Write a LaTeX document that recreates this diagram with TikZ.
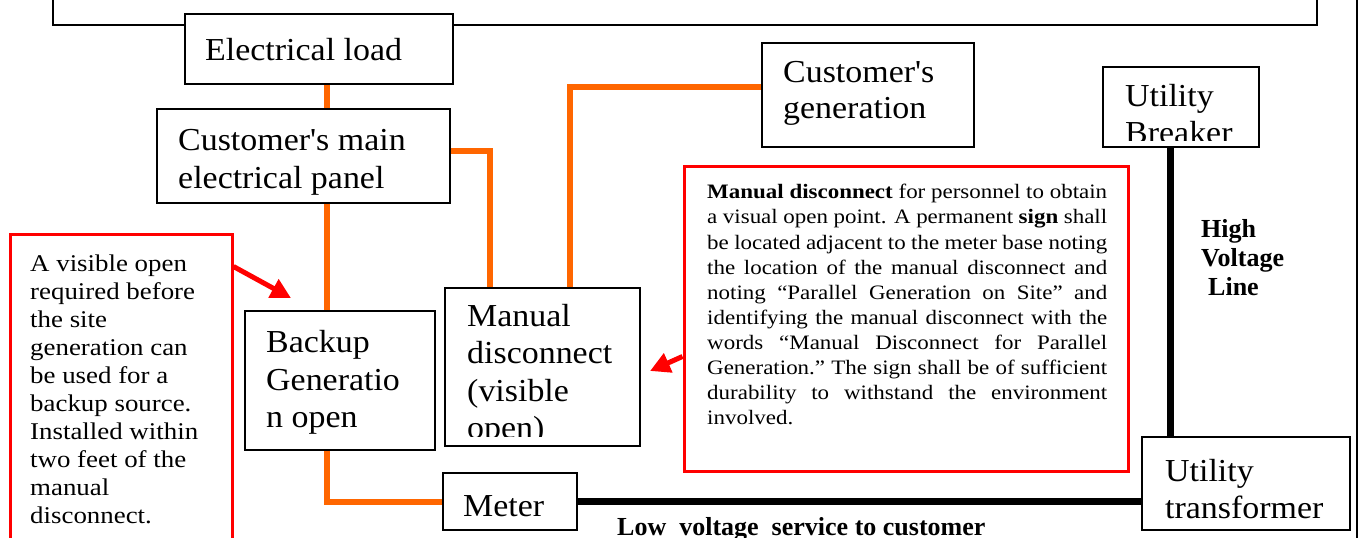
\documentclass[tikz,border=0pt]{standalone}
\usepackage{fontspec}
\setmainfont{Liberation Serif}
\newfontfamily\boxfont[FakeStretch=1.06]{Liberation Serif}
\newfontfamily\notefont[FakeStretch=1.12]{Liberation Serif}
\definecolor{wireorange}{RGB}{255,102,0}
\definecolor{notered}{RGB}{255,0,0}
\usepackage{tikz}
\usetikzlibrary{arrows.meta,calc}

\begin{document}
\begin{tikzpicture}[x=1pt, y=-1pt,
    block/.style={draw, line width=1.5pt, fill=white, inner sep=0pt},
    redbox/.style={draw=notered, line width=3pt, fill=white, inner sep=0pt},
    lbl/.style={anchor=base west, inner sep=0pt, font=\boxfont\fontsize{32}{38}\selectfont},
    signtxt/.style={anchor=base west, inner sep=0pt, font=\notefont\fontsize{20.5}{25}\selectfont},
    sidetxt/.style={anchor=base west, inner sep=0pt, font=\notefont\fontsize{24}{28}\selectfont},
    boldtxt/.style={anchor=base west, inner sep=0pt, font=\bfseries\fontsize{26}{29}\selectfont},
    wire/.style={draw=wireorange, line width=6pt},
    service/.style={draw=black, line width=7pt},
    pointer/.style={draw=notered, line width=5pt, -{Triangle[length=20pt, width=20pt]}}]
    \useasboundingbox (0,0) rectangle (1361,538);
    \clip (0,0) rectangle (1361,538);

    % Title frame, cut off at the top
    \draw[line width=1.5pt] (53,-5) |- (1317,25) -- (1317,-5);
    % Page edge
    \draw[line width=2pt] (1357,-5) -- (1357,545);

    % Wire tap positions
    \coordinate (trunk) at (327,0);
    \coordinate (tapA) at (490,0);
    \coordinate (tapB) at (570,0);
    \coordinate (hvx) at (1170,0);

    % Boxes
    \node[block, minimum width=268pt, minimum height=70pt] (load) at (319,49) {};
    \node[lbl] (load-t) at (205,60) {Electrical load};

    \node[block, minimum width=293pt, minimum height=94pt] (panel) at (303.5,156) {};
    \node[lbl] (panel-t1) at (178,150) {Customer's main};
    \node[lbl] (panel-t2) at (178,188) {electrical panel};

    \node[block, minimum width=212pt, minimum height=104pt] (custgen) at (868,95) {};
    \node[lbl] (custgen-t1) at (783,82) {Customer's};
    \node[lbl] (custgen-t2) at (783,118) {generation};

    \node[block, minimum width=156pt, minimum height=80pt] (breaker) at (1181,107) {};
    \node[lbl] (breaker-t1) at (1125,106) {Utility};
    \begin{scope}
        \clip (1103,120) rectangle (1259,140);
        \node[lbl] (breaker-t2) at (1125,143) {Breaker};
    \end{scope}

    \node[block, minimum width=190pt, minimum height=139pt] (backup) at (340,380.5) {};
    \node[lbl] (backup-t1) at (266,352) {Backup};
    \node[lbl] (backup-t2) at (266,390) {Generatio};
    \node[lbl] (backup-t3) at (266,427) {n open};

    \node[block, minimum width=195pt, minimum height=158pt] (mdisc) at (542.5,367) {};
    \node[lbl] (mdisc-t1) at (467,326) {Manual};
    \node[lbl] (mdisc-t2) at (467,363) {disconnect};
    \node[lbl] (mdisc-t3) at (467,401) {(visible};
    \begin{scope}
        \clip (445,410) rectangle (640,436);
        \node[lbl] (mdisc-t4) at (467,438) {open)};
    \end{scope}

    \node[block, minimum width=134pt, minimum height=57pt] (meter) at (510,501.5) {};
    \node[lbl] (meter-t) at (463,516) {Meter};

    \node[block, minimum width=208pt, minimum height=93pt] (xfmr) at (1246,483.5) {};
    \node[lbl] (xfmr-t1) at (1165,481) {Utility};
    \node[lbl] (xfmr-t2) at (1165,518) {transformer};

    % Notes
    \node[redbox, minimum width=222pt, minimum height=340pt] (leftnote) at (121,404) {};
    \node[sidetxt] (leftnote-t1) at (30,271) {A visible open};
    \node[sidetxt] (leftnote-t2) at (30,299) {required before};
    \node[sidetxt] (leftnote-t3) at (30,327) {the site};
    \node[sidetxt] (leftnote-t4) at (30,355) {generation can};
    \node[sidetxt] (leftnote-t5) at (30,383) {be used for a};
    \node[sidetxt] (leftnote-t6) at (30,411) {backup source.};
    \node[sidetxt] (leftnote-t7) at (30,439) {Installed within};
    \node[sidetxt] (leftnote-t8) at (30,467) {two feet of the};
    \node[sidetxt] (leftnote-t9) at (30,495) {manual};
    \node[sidetxt] (leftnote-t10) at (30,523) {disconnect.};

    \node[redbox, minimum width=444pt, minimum height=305pt] (signnote) at (906,318.5) {};
    \node[signtxt] (sign-t1) at (707,198) {\makebox[400pt][s]{\textbf{Manual disconnect} for personnel to obtain}};
    \node[signtxt] (sign-t2) at (707,223) {\makebox[400pt][s]{a visual open point. A permanent \textbf{sign} shall}};
    \node[signtxt] (sign-t3) at (707,249) {\makebox[400pt][s]{be located adjacent to the meter base noting}};
    \node[signtxt] (sign-t4) at (707,274) {\makebox[400pt][s]{the location of the manual disconnect and}};
    \node[signtxt] (sign-t5) at (707,299) {\makebox[400pt][s]{noting “Parallel Generation on Site” and}};
    \node[signtxt] (sign-t6) at (707,324) {\makebox[400pt][s]{identifying the manual disconnect with the}};
    \node[signtxt] (sign-t7) at (707,349) {\makebox[400pt][s]{words “Manual Disconnect for Parallel}};
    \node[signtxt] (sign-t8) at (707,374) {\makebox[400pt][s]{Generation.”\ The sign shall be of sufficient}};
    \node[signtxt] (sign-t9) at (707,399) {\makebox[400pt][s]{durability to withstand the environment}};
    \node[signtxt] (sign-t10) at (707,424) {involved.};

    % Line labels
    \node[boldtxt] (hv-t1) at (1201,237) {High};
    \node[boldtxt] (hv-t2) at (1201,266) {Voltage};
    \node[boldtxt] (hv-t3) at (1208,295) {Line};
    \node[boldtxt] (lv-t) at (617,535) {Low\ \ voltage\ \ service to\ customer};

    % Customer side wiring
    \draw[wire] (load.south -| trunk) -- (panel.north -| trunk);
    \draw[wire] (panel.south -| trunk) -- (backup.north -| trunk);
    \draw[wire] ([yshift=5pt]panel.east) -| (mdisc.north -| tapA);
    \draw[wire] (mdisc.north -| tapB) |- ([yshift=8pt]custgen.west);
    \draw[wire] (backup.south -| trunk) |- (meter.west);

    % Utility side
    \draw[service] (meter.east) -- (xfmr.west |- meter.east);
    \draw[service] (breaker.south -| hvx) -- (xfmr.north -| hvx);

    % Pointers
    \coordinate (bk-tip) at (291,298);
    \coordinate (md-tip) at (650,371);
    \draw[pointer] ($(leftnote.north east)+(0,34)$) -- (bk-tip);
    \draw[pointer] ($(signnote.west)+(0,38)$) -- (md-tip);
\end{tikzpicture}
\end{document}
